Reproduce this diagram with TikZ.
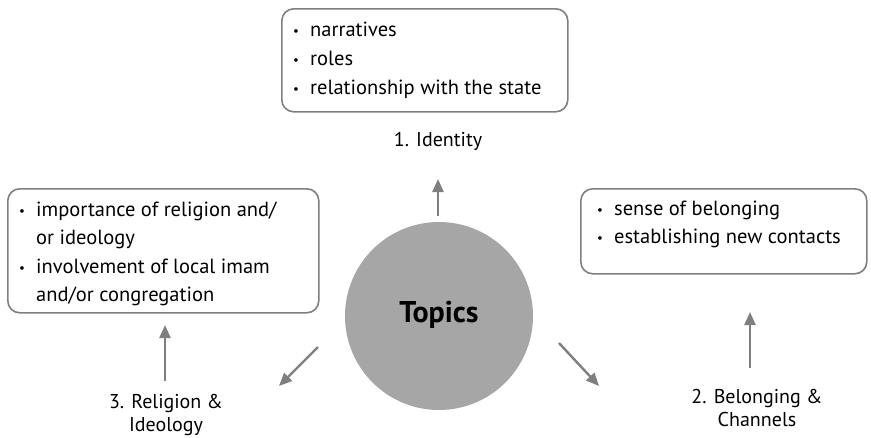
\documentclass[tikz,border=0pt]{standalone}
\usepackage{fontspec}
\setmainfont{PT Sans}
\usetikzlibrary{arrows.meta}
\definecolor{edgegray}{HTML}{7F7F7F}
\definecolor{circgray}{HTML}{A6A6A6}
\tikzset{
  box/.style={draw=edgegray, line width=1.6pt, rounded corners=12pt, anchor=north west, inner sep=0pt},
  txt/.style={anchor=base west, inner sep=0pt, font=\fontsize{20.5}{28}\selectfont},
  lbl/.style={align=center, inner sep=0pt, font=\fontsize{20}{23}\selectfont},
  arr/.style={draw=edgegray, line width=2.4pt, -{Triangle[length=13pt,width=11pt]}},
}
\newcommand{\bul}{\makebox[17pt][l]{\raisebox{1pt}{\fontsize{13}{13}\selectfont•}}}
\begin{document}
\begin{tikzpicture}[x=1pt,y=-1pt]
\useasboundingbox (0,0) rectangle (871,437);
% boxes
\node[box, minimum width=286pt, minimum height=103pt] (b1) at (281,8) {};
\node[box, minimum width=311pt, minimum height=124pt] (b3) at (7,188) {};
\node[box, minimum width=286pt, minimum height=85pt] (b2) at (580,188) {};
% box texts
\node[txt] (t1a) at (293,36) {\bul narratives};
\node[txt] (t1b) at (293,65) {\bul roles};
\node[txt] (t1c) at (293,94) {\bul relationship with the state};
\node[txt] (t3a) at (19,216) {\bul importance of religion and/};
\node[txt] (t3b) at (36,244) {or ideology};
\node[txt] (t3c) at (19,273) {\bul involvement of local imam};
\node[txt] (t3d) at (36,301) {and/or congregation};
\node[txt] (t2a) at (597,215) {\bul sense of belonging};
\node[txt] (t2b) at (597,243) {\bul establishing new contacts};
% circle
\node[circle, fill=circgray, minimum size=188pt, inner sep=0pt] (c) at (439,316) {};
\node[font=\fontsize{30}{30}\selectfont\bfseries, inner sep=0pt] (topics) at (439,315) {Topics};
% labels
\node[lbl, anchor=base] (l1) at (438,146) {1. Identity};
\node[lbl, anchor=base] (l3) at (166,431) {3. Religion \&\\Ideology};
\node[lbl, anchor=base] (l2) at (757,426) {2. Belonging \&\\Channels};
% arrow coordinates
\coordinate (a1s) at (438,216);
\coordinate (a1e) at (438,179);
\coordinate (a3s) at (165,381);
\coordinate (a3e) at (165,325);
\coordinate (a2s) at (750,368);
\coordinate (a2e) at (750,312);
\coordinate (dls) at (318,347);
\coordinate (dle) at (279,386);
\coordinate (drs) at (559,343);
\coordinate (dre) at (599,386);
\draw[arr] (a1s) -- (a1e);
\draw[arr] (a3s) -- (a3e);
\draw[arr] (a2s) -- (a2e);
\draw[arr] (dls) -- (dle);
\draw[arr] (drs) -- (dre);
\end{tikzpicture}
\end{document}
